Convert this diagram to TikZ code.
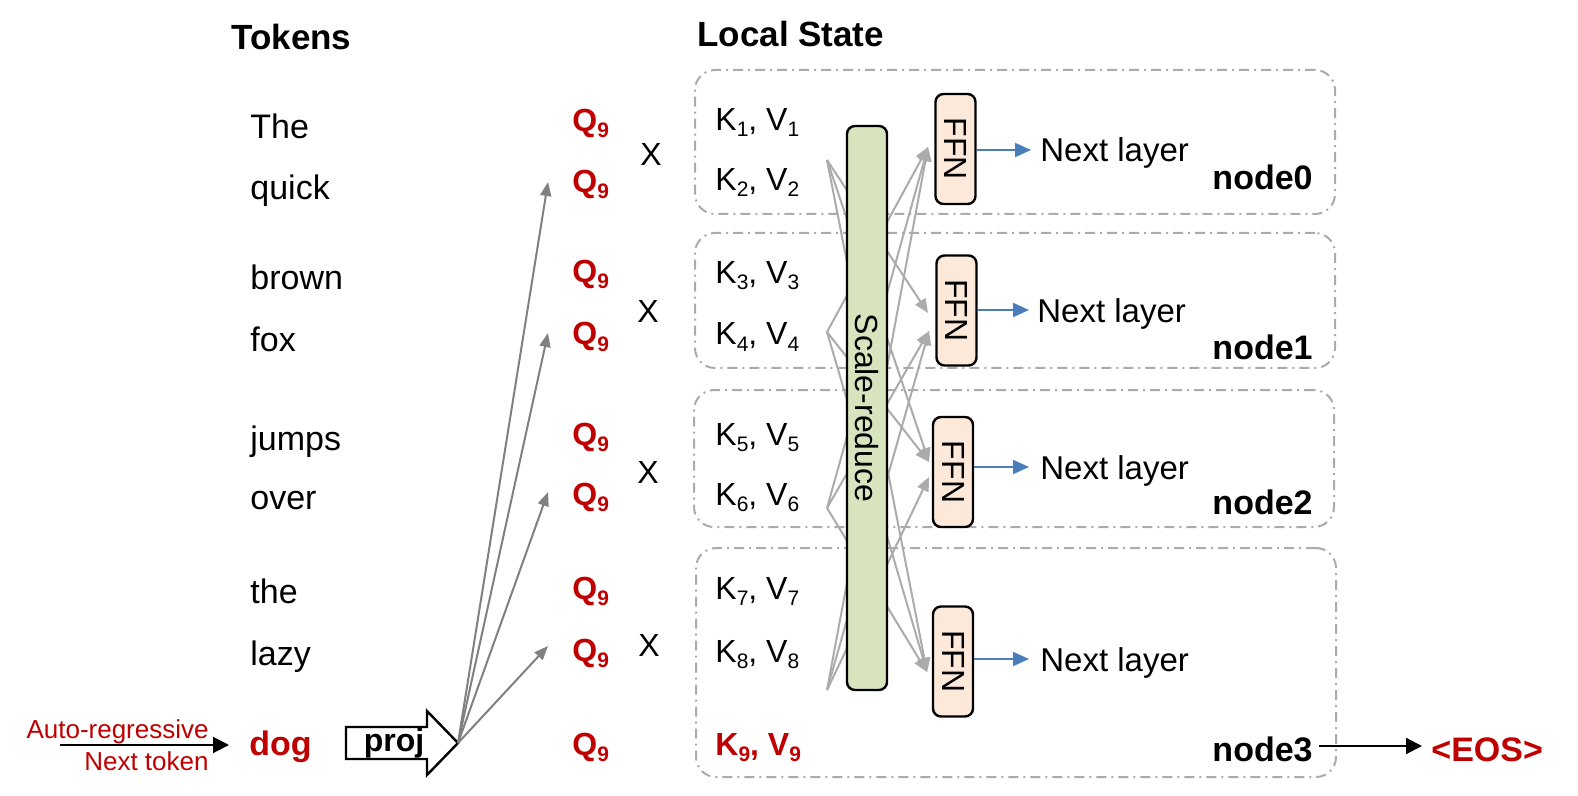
\documentclass[tikz,border=0pt]{standalone}
\usepackage{fontspec}
\setmainfont{Liberation Sans}
\usetikzlibrary{arrows.meta}
\definecolor{myred}{HTML}{C00000}
\definecolor{lgray}{HTML}{ABABAB}
\definecolor{dgray}{HTML}{808080}
\definecolor{myblue}{HTML}{4A7EBB}
\definecolor{sgreen}{HTML}{D7E4BD}
\definecolor{peach}{HTML}{FDE9D9}
\newcommand\sbs[1]{\raisebox{-3pt}{\fontsize{10.5}{11}\selectfont #1}}
\begin{document}
\begin{tikzpicture}[x=0.5pt,y=-0.5pt,
  tok/.style={inner sep=0pt, anchor=base west, font=\fontsize{17}{20}\selectfont},
  head/.style={inner sep=0pt, anchor=base west, font=\fontsize{17.5}{20}\selectfont\bfseries},
  qlab/.style={inner sep=0pt, anchor=base west, font=\fontsize{16}{19}\selectfont\bfseries, text=myred},
  klab/.style={inner sep=0pt, anchor=base west, font=\fontsize{16}{19}\selectfont},
  xlab/.style={inner sep=0pt, anchor=base, font=\fontsize{16}{19}\selectfont},
  nlab/.style={inner sep=0pt, anchor=base east, font=\fontsize{17}{20}\selectfont\bfseries},
  nxt/.style={inner sep=0pt, anchor=base west, font=\fontsize{16.5}{20}\selectfont},
  dbox/.style={draw=lgray, line width=1pt, rounded corners=10pt,
    dash pattern=on 5pt off 2.5pt on 1pt off 2.5pt},
  ffn/.style={draw=black, line width=1.2pt, fill=peach, rounded corners=4pt, rotate=-90,
    minimum width=55pt, minimum height=20pt, inner sep=0pt, font=\fontsize{16}{19}\selectfont},
  fan/.style={draw=lgray, line width=1pt, -{Triangle[length=7pt,width=6pt]}},
  projl/.style={draw=dgray, line width=1pt, -{Triangle[length=7pt,width=5.5pt]}},
  bluea/.style={draw=myblue, line width=1pt, -{Triangle[length=8pt,width=7pt]}},
  blacka/.style={draw=black, line width=1pt, -{Triangle[length=8pt,width=8pt]}}
]
\useasboundingbox (0,0) rectangle (1578,796);

% headers
\node[head] (htok) at (231,50) {Tokens};
\node[head] (hloc) at (697,47) {Local State};

% dashed node boxes
\node[dbox, minimum width=320pt, minimum height=72pt] (b0) at (1015,142) {};
\node[dbox, minimum width=320pt, minimum height=67.5pt] (b1) at (1015,300.5) {};
\node[dbox, minimum width=320pt, minimum height=68.5pt] (b2) at (1014,458.5) {};
\node[dbox, minimum width=320pt, minimum height=114.5pt] (b3) at (1016,662.5) {};

% tokens
\node[tok] (t1) at (250,139) {The};
\node[tok] (t2) at (250,200) {quick};
\node[tok] (t3) at (250,290) {brown};
\node[tok] (t4) at (250,351) {fox};
\node[tok] (t5) at (250,450) {jumps};
\node[tok] (t6) at (250,509) {over};
\node[tok] (t7) at (250,603) {the};
\node[tok] (t8) at (250,665) {lazy};
\node[tok, font=\fontsize{17}{20}\selectfont\bfseries, text=myred] (t9) at (249,755) {dog};

% Q labels
\foreach \y [count=\i] in {132,193,283,345,445,505,599,661,755}
  \node[qlab] (q\i) at (572,\y) {Q\sbs{9}};

% X labels
\node[xlab] (x1) at (651,166) {X};
\node[xlab] (x2) at (648,323) {X};
\node[xlab] (x3) at (648,483) {X};
\node[xlab] (x4) at (649,656) {X};

% K,V labels
\foreach \y [count=\i] in {131,191,284,345,445,505,599,662}
  \node[klab] (k\i) at (715,\y) {K\sbs{\i}, V\sbs{\i}};
\node[klab, font=\fontsize{16}{19}\selectfont\bfseries, text=myred] (k9) at (715,755) {K\sbs{9}, V\sbs{9}};

% fan coordinates
\coordinate (s0) at (827,160);
\coordinate (s1) at (827,332);
\coordinate (s2) at (827,508);
\coordinate (s3) at (827,690);
\coordinate (e0) at (928,147);
\coordinate (e1a) at (928,313);
\coordinate (e1b) at (929,331);
\coordinate (e2a) at (929,462);
\coordinate (e2b) at (929,477);
\coordinate (e3) at (927,672);

\draw[fan] (s0) -- (e1a);
\draw[fan] (s0) -- (e2a);
\draw[fan] (s0) -- (e3);
\draw[fan] (s1) -- (e0);
\draw[fan] (s1) -- (e2a);
\draw[fan] (s1) -- (e3);
\draw[fan] (s2) -- (e0);
\draw[fan] (s2) -- (e1b);
\draw[fan] (s2) -- (e3);
\draw[fan] (s3) -- (e0);
\draw[fan] (s3) -- (e1b);
\draw[fan] (s3) -- (e2b);

% scale-reduce
\node[draw=black, line width=1.2pt, fill=sgreen, rounded corners=4pt, rotate=-90,
  minimum width=282pt, minimum height=20pt, inner sep=0pt,
  font=\fontsize{16}{19}\selectfont] (sr) at (867,408) {Scale-reduce};

% FFN boxes
\node[ffn] (f0) at (955.5,149) {FFN};
\node[ffn] (f1) at (956.5,310.5) {FFN};
\node[ffn] (f2) at (953,472) {FFN};
\node[ffn] (f3) at (953,661.5) {FFN};

% next layer
\node[nxt] (n0) at (1040,162) {Next layer};
\node[nxt] (n1) at (1037,323) {Next layer};
\node[nxt] (n2) at (1040,479) {Next layer};
\node[nxt] (n3) at (1040,671) {Next layer};
\coordinate (a0) at (1031,150);
\coordinate (a1) at (1029,310);
\coordinate (a2) at (1029,467);
\coordinate (a3) at (1029,659);
\draw[bluea] (f0.north |- a0) -- (a0);
\draw[bluea] (f1.north |- a1) -- (a1);
\draw[bluea] (f2.north |- a2) -- (a2);
\draw[bluea] (f3.north |- a3) -- (a3);

% node labels
\node[nlab] (l0) at (1313,190) {node0};
\node[nlab] (l1) at (1313,359) {node1};
\node[nlab] (l2) at (1313,514) {node2};
\node[nlab] (l3) at (1313,761) {node3};

% EOS
\node[head, font=\fontsize{17}{20}\selectfont\bfseries, text=myred] (eos) at (1431,761) {<EOS>};
\coordinate (eosS) at (1319,746);
\coordinate (eosT) at (1422,746);
\draw[blacka] (eosS) -- (eosT);

% auto-regressive
\node[inner sep=0pt, anchor=base east, text=myred, font=\fontsize{13}{15}\selectfont] (ar1) at (209,738) {Auto-regressive};
\node[inner sep=0pt, anchor=base east, text=myred, font=\fontsize{13}{15}\selectfont] (ar2) at (209,770) {Next token};
\coordinate (arS) at (60,745);
\coordinate (arT) at (229,745);
\draw[blacka] (arS) -- (arT);

% proj arrow
\draw[line width=1.2pt, fill=white] (346,727) -- (427,727) -- (427,711) -- (458,743) -- (427,775) -- (427,759) -- (346,759) -- cycle;
\coordinate (ptip) at (458,743);
\node[inner sep=0pt, anchor=base, font=\fontsize{16}{19}\selectfont\bfseries] (proj) at (394,751) {proj};
\coordinate (p1) at (548,182);
\coordinate (p2) at (548,333);
\coordinate (p3) at (548,492);
\coordinate (p4) at (548,646);
\draw[projl] (ptip) -- (p1);
\draw[projl] (ptip) -- (p2);
\draw[projl] (ptip) -- (p3);
\draw[projl] (ptip) -- (p4);
\end{tikzpicture}
\end{document}
